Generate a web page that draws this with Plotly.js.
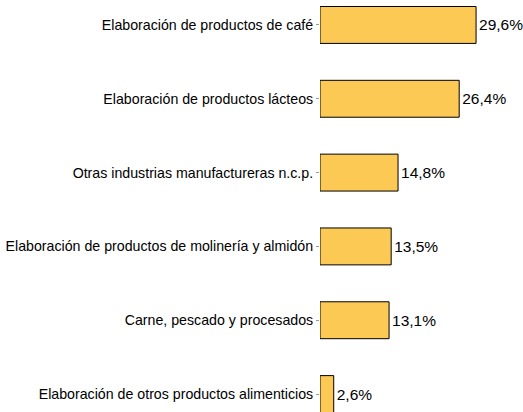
<!DOCTYPE html>
<html><head><meta charset="utf-8">
<script src="https://cdn.plot.ly/plotly-3.0.1.min.js"></script>
<style>html,body{margin:0;padding:0;background:#fff;}#chart{width:523px;height:412px;}</style>
</head><body><div id="chart"></div>
<script>
const categories = [
  "Elaboración de otros productos alimenticios",
  "Carne, pescado y procesados",
  "Elaboración de productos de molinería y almidón",
  "Otras industrias manufactureras n.c.p.",
  "Elaboración de productos lácteos",
  "Elaboración de productos de café"
];
const values = [2.6, 13.1, 13.5, 14.8, 26.4, 29.6];
const valueLabels = ["2,6%", "13,1%", "13,5%", "14,8%", "26,4%", "29,6%"];

Plotly.newPlot('chart', [{
  type: 'bar', orientation: 'h',
  y: categories, x: values,
  text: valueLabels, textposition: 'outside', cliponaxis: false,
  textfont: {family: 'Liberation Sans, Arial, sans-serif', size: 15.5, color: '#000'},
  marker: {color: '#FCC954', line: {color: '#000', width: 1}},
  width: 0.5, hoverinfo: 'none'
}], {
  width: 523, height: 412,
  margin: {l: 320, r: 0, t: 0, b: 0, pad: 0},
  paper_bgcolor: '#fff', plot_bgcolor: '#fff',
  showlegend: false,
  font: {family: 'Liberation Sans, Arial, sans-serif', color: '#000'},
  xaxis: {range: [0, 38.5], visible: false, showgrid: false, zeroline: false},
  yaxis: {type: 'category', range: [-0.243, 5.338], showgrid: false, zeroline: false,
          showline: false, ticks: 'outside', ticklen: 3, tickcolor: '#999', tickwidth: 1,
          tickfont: {size: 14.2, color: '#000'}, automargin: false}
}, {displayModeBar: false, staticPlot: true});
</script></body></html>
